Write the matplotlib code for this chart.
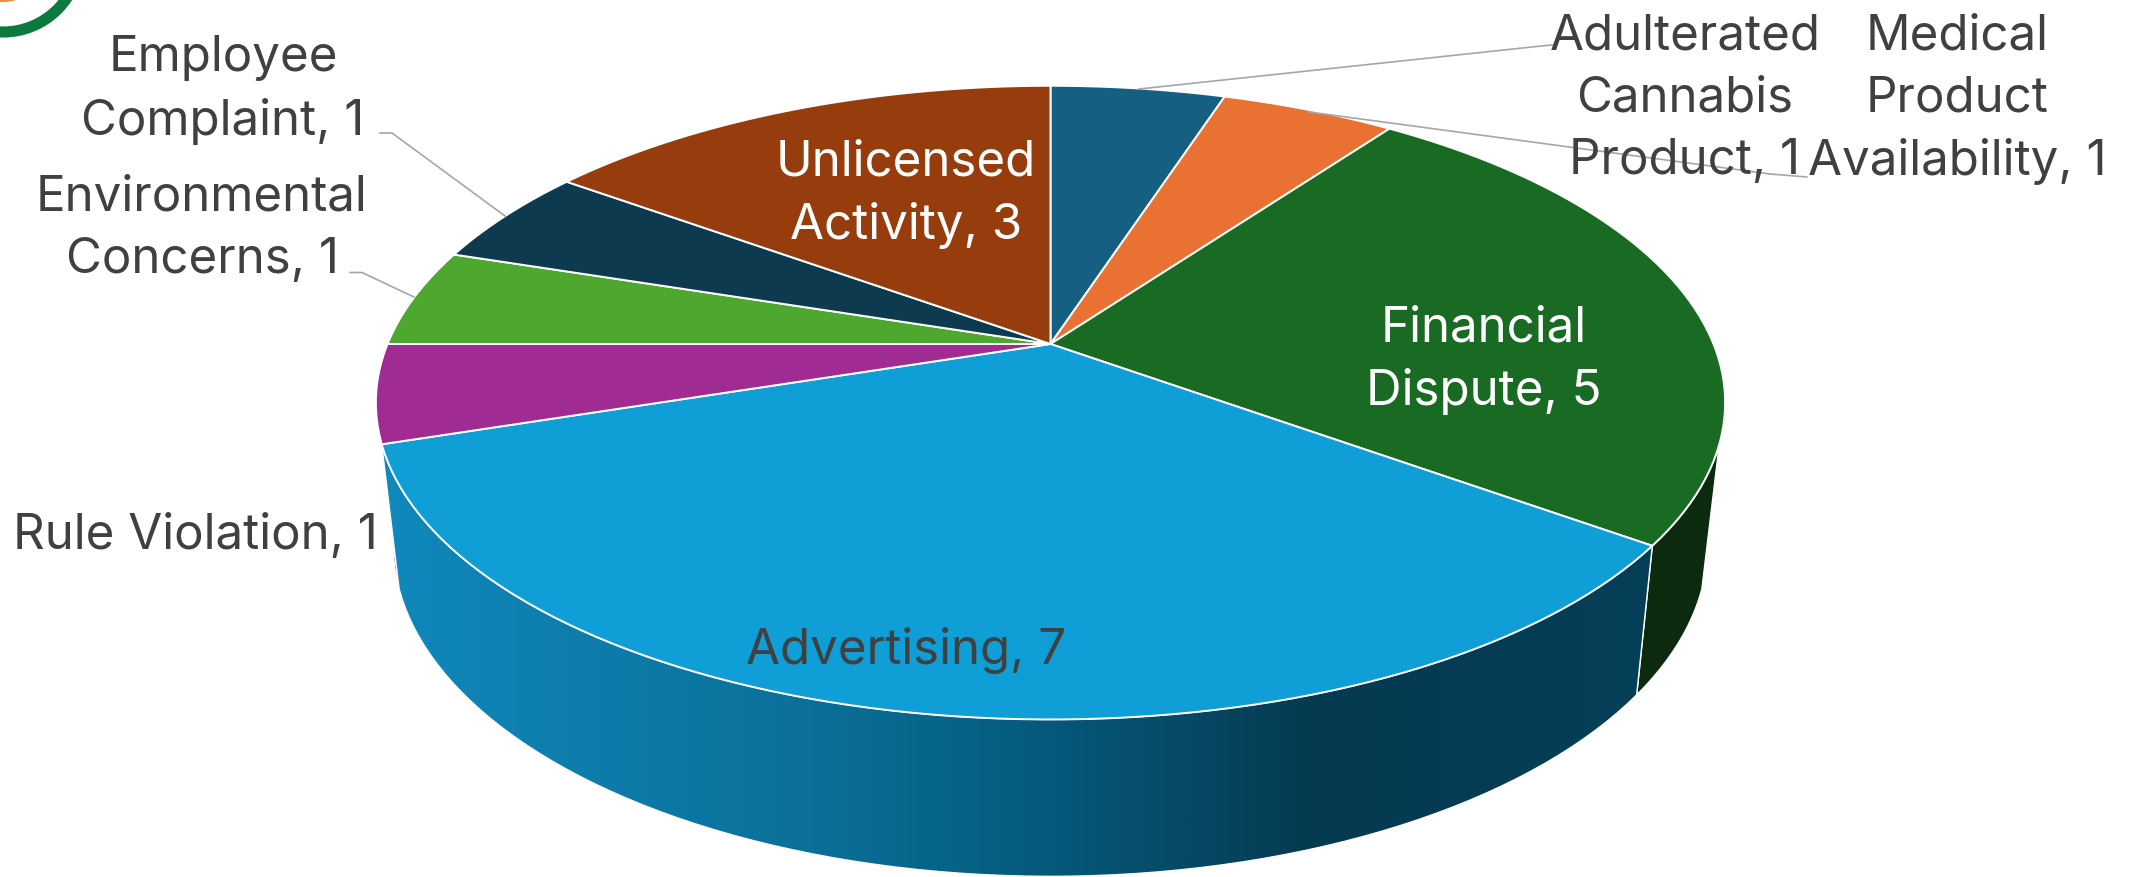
import numpy as np
import matplotlib.pyplot as plt
from matplotlib.colors import LinearSegmentedColormap
from matplotlib.patches import Circle, Polygon

# Chart data, clockwise from 12 o'clock
names = ['Adulterated\nCannabis\nProduct', 'Medical\nProduct\nAvailability', 'Financial\nDispute',
         'Advertising', 'Rule Violation', 'Environmental\nConcerns', 'Employee\nComplaint',
         'Unlicensed\nActivity']
counts = [1, 1, 5, 7, 1, 1, 1, 3]
top_colors = ['#156082', '#E97132', '#196B24', '#0F9ED5', '#A02B93', '#4EA72E', '#0D3A4E', '#973C0C']
text_colors = ['#404040', '#404040', 'white', '#404040', '#404040', '#404040', '#404040', 'white']

plt.rcParams['font.family'] = ['Inter', 'DejaVu Sans']

W, H = 2131, 877
fig = plt.figure(figsize=(W / 100, H / 100), dpi=100)
ax = fig.add_axes([0, 0, 1, 1])
ax.set_xlim(0, W)
ax.set_ylim(H, 0)
ax.axis('off')

# Perspective tilt of the disc
CX, CY = 1050.5, 344
RX, RY, K = 663, 306, 0.185


def rim(deg):
    """Point on the top rim for an angle clockwise from 12 o'clock."""
    t = np.radians(deg)
    u, v = np.sin(t), np.cos(t)
    return RX * u / (1 + K * v), -RY * v / (1 + K * v)


def top_xy(deg):
    x, y = rim(deg)
    return np.column_stack([CX + x, CY + y])


def bottom_xy(deg):
    x, y = rim(deg)
    return np.column_stack([CX + 0.974 * x, CY + 1.045 * y + 140])


def side_poly(a, b):
    deg = np.linspace(a, b, 80)
    return np.vstack([top_xy(deg), bottom_xy(deg)[::-1]])


edges = np.cumsum([0] + counts) / sum(counts) * 360

# Walls first, the top covers whatever is behind it
# only the part of each wall up to the silhouette shows
ax.add_patch(Polygon(side_poly(108, edges[3]), fc='#0C2B0E', ec='white', lw=1, zorder=1))
ax.add_patch(Polygon(side_poly(edges[4], 262), fc=top_colors[4], ec='white', lw=0.8, zorder=1))

wall = Polygon(side_poly(edges[3], edges[4]), fc='none', ec='white', lw=1, zorder=2)
ax.add_patch(wall)
wall_cmap = LinearSegmentedColormap.from_list('wall', [(0, '#1089BC'), (0.35, '#0A6F98'), (0.52, '#055A7C'),
                                                       (0.73, '#053A50'), (1, '#063F58')])
im = ax.imshow(np.linspace(0, 1, 512)[None, :], cmap=wall_cmap, extent=(375, 1660, H, 0),
               aspect='auto', zorder=1.5)
im.set_clip_path(wall)
ax.set_xlim(0, W)
ax.set_ylim(H, 0)

# Top of the pie
for i, color in enumerate(top_colors):
    deg = np.linspace(edges[i], edges[i + 1], max(int(counts[i] * 12), 2))
    pts = np.vstack([[CX, CY], top_xy(deg)])
    ax.add_patch(Polygon(pts, fc=color, ec='white', lw=1.4, joinstyle='round', zorder=3))

# Leader lines
leaders = [([380, 392, 505], [133, 133, 216]),
           ([350, 362, 414], [272.5, 272.5, 297]),
           ([1552, 1546, 1139], [45, 45.5, 89]),
           ([1807, 1770, 1309], [177, 174, 112])]
for lx, ly in leaders:
    ax.plot(lx, ly, color='#A6A6A6', lw=1.2, zorder=4)

# Data labels
label_xy = [(1685, 99), (1957, 99), (1484, 360), (906, 650), (195, 536), (202, 229), (223, 90), (906, 194)]
for name, n, color, (x, y) in zip(names, counts, text_colors, label_xy):
    ax.text(x, y, f'{name}, {n}', color=color, fontsize=35.5, ha='center', va='center',
            linespacing=1.45, zorder=5)

# Corner of the logo cut off by the crop
ax.add_patch(Circle((3, -45), 77, fc='none', ec='#0B7A3E', lw=8, zorder=6))
ax.add_patch(Circle((3, -42), 44, fc='#F58A3C', ec='none', zorder=6))

fig.savefig('out.png', dpi=100)
